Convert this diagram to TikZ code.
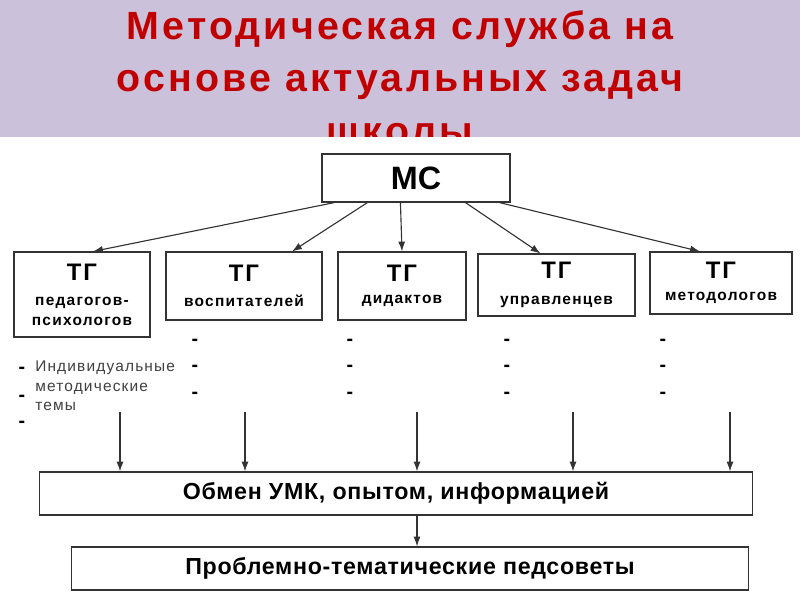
\documentclass[tikz,border=0pt]{standalone}
\usepackage{fontspec}
\setmainfont{Liberation Sans}
\newfontfamily\widesans[LetterSpace=8]{Liberation Sans}
\newfontfamily\airysans[LetterSpace=7.5]{Liberation Sans}
\newfontfamily\loosesans[LetterSpace=3]{Liberation Sans}
\newfontfamily\titlesans[LetterSpace=8]{Liberation Sans}
\usetikzlibrary{positioning,arrows.meta}
\definecolor{band}{RGB}{204,193,218}
\definecolor{titlered}{RGB}{192,0,0}
\newcommand{\tghead}{\fontsize{17}{20}\selectfont\bfseries}

\begin{document}
\begin{tikzpicture}[
    x=0.025cm, y=-0.025cm,
    box/.style={draw=black!80, line width=0.8pt, fill=white, align=center, inner sep=0pt},
    tg/.style={box, font=\widesans\bfseries\fontsize{11}{14}\selectfont},
    wide/.style={box, font=\loosesans\bfseries\fontsize{16.5}{20}\selectfont},
    hyph/.style={font=\bfseries\fontsize{14}{16}\selectfont, inner sep=0pt},
    link/.style={draw=black!80, line width=0.8pt, -{Latex[length=7pt,width=5pt]}}
]
\useasboundingbox (0,0) rectangle (800,600);

% title band
\fill[band] (0,0) rectangle (800,137);
\node[titlered, font=\titlesans\bfseries\fontsize{28}{37.5}\selectfont, align=center, anchor=north, inner sep=0pt] (title) at (400,10) {Методическая служба на\\основе актуальных задач\\школы};
\fill[white] (0,137) rectangle (800,600);

% boxes
\node[box, minimum width=4.7cm, minimum height=1.2cm, font=\bfseries\fontsize{23}{25}\selectfont] (ms) at (416,178) {МС};
\node[tg, minimum width=3.4cm, minimum height=2.125cm] (tgpsy) at (82,294.5) {{\tghead ТГ}\\[4pt]педагогов-\\психологов};
\node[tg, minimum width=3.9cm, minimum height=1.7cm] (tgvos) at (244,286) {{\tghead ТГ}\\[4pt]воспитателей};
\node[tg, minimum width=3.2cm, minimum height=1.7cm] (tgdid) at (402,286) {{\tghead ТГ}\\[2pt]дидактов};
\node[tg, minimum width=3.925cm, minimum height=1.55cm] (tgupr) at (556.5,285) {{\tghead ТГ}\\[4pt]управленцев};
\node[tg, minimum width=3.55cm, minimum height=1.55cm] (tgmet) at (721,283) {{\tghead ТГ}\\[2pt]методологов};
\node[wide, minimum width=17.8cm, minimum height=1.075cm] (exch) at (396,493.5) {Обмен УМК, опытом, информацией};
\node[wide, minimum width=16.9cm, minimum height=1.075cm] (sovet) at (410,568.5) {Проблемно-тематические педсоветы};

% themes under the groups
\node[font=\airysans\fontsize{11}{13.8}\selectfont, text=black!75, align=left, anchor=north west, inner sep=0pt] (indiv) at (35,361) {Индивидуальные\\методические\\темы};
\foreach \dy [count=\k] in {370,398,424}
  \node[hyph] (hypha\k) at (22,\dy) {-};
\foreach \dx/\g in {195/b,350/c,507/d,663/e}
  \foreach \dy [count=\k] in {342,368,395}
    \node[hyph] (hyph\g\k) at (\dx,\dy) {-};

% arrows
\draw[link] ([xshift=0.325cm]ms.south west) -- ([xshift=0.275cm]tgpsy.north);
\draw[link] ([xshift=1.15cm]ms.south west) -- ([xshift=1.2cm]tgvos.north);
\draw[link] ([xshift=1.975cm]ms.south west) -- (tgdid.north);
\draw[link] ([xshift=3.6cm]ms.south west) -- ([xshift=-0.4cm]tgupr.north);
\draw[link] ([xshift=4.45cm]ms.south west) -- ([xshift=-0.525cm]tgmet.north);
\foreach \ax [count=\i] in {120,245,417,573,730} {
  \coordinate (top\i) at (\ax,412);
  \draw[link] (top\i) -- (top\i |- exch.north);
}
\draw[link] (exch.south -| top3) -- (sovet.north -| top3);
\end{tikzpicture}
\end{document}
